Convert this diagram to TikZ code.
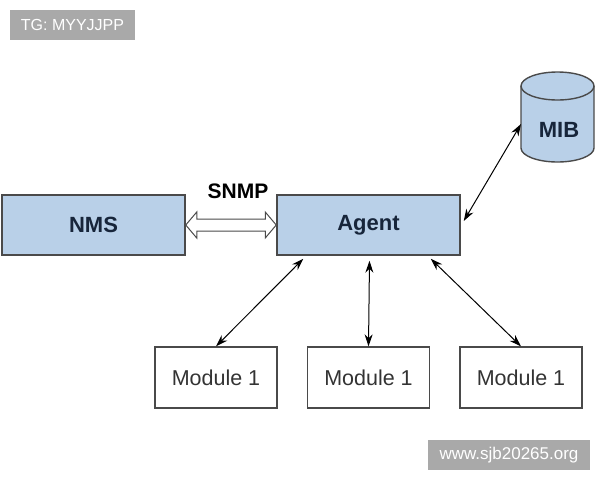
\documentclass[tikz,border=0pt]{standalone}
\usepackage{fontspec}
\setmainfont{Liberation Sans}
\usetikzlibrary{arrows.meta,calc}
\definecolor{boxblue}{HTML}{B9D0E8}
\definecolor{boxline}{HTML}{4A4A4A}
\definecolor{navy}{HTML}{17253A}
\definecolor{wmgray}{HTML}{A9A9A9}
\tikzset{
  bluebox/.style={draw=boxline, line width=1.5pt, fill=boxblue, minimum width=183pt, minimum height=60pt, inner sep=0pt, font=\fontsize{22}{26}\selectfont\bfseries, text=navy},
  modbox/.style={draw=boxline, line width=1.3pt, fill=white, minimum width=122pt, minimum height=61pt, inner sep=0pt, font=\fontsize{21.5}{25}\selectfont, text=black!80},
  wmbox/.style={fill=wmgray, text=white, inner sep=0pt},
  link/.style={line width=1pt, {Stealth[length=12pt,width=8pt]}-{Stealth[length=12pt,width=8pt]}}
}
\begin{document}
\begin{tikzpicture}[x=1pt,y=-1pt]
\useasboundingbox (0,0) rectangle (600,480);
% watermarks
\node[wmbox, minimum width=125pt, minimum height=30pt, font=\fontsize{16}{19}\selectfont] (tg) at (72.5,25) {TG: MYYJJPP};
\node[wmbox, minimum width=162pt, minimum height=30pt, font=\fontsize{17}{20}\selectfont] (www) at (509,455) {www.sjb20265.org};
% main boxes
\node[bluebox] (nms) at (93.5,225) {NMS};
\node[bluebox] (agent) at (368.5,225) {Agent};
\node[font=\fontsize{21}{25}\selectfont\bfseries] (snmp) at (238,191) {SNMP};
% hollow double arrow
\draw[line width=1pt, draw=boxline, fill=white]
  (nms.east) -- ++(11,-13) -- ++(0,7) -- ($(agent.west)+(-11,-6)$) -- ++(0,-7)
  -- (agent.west) -- ++(-11,13) -- ++(0,-7) -- ($(nms.east)+(11,6)$) -- ++(0,7) -- cycle;
% MIB cylinder
\draw[line width=1.4pt, draw=boxline, fill=boxblue]
  (521,86) -- (521,148) arc[start angle=180, end angle=360, x radius=36.5, y radius=-14]
  -- (594,86) arc[start angle=0, end angle=180, x radius=36.5, y radius=-14] -- cycle;
\draw[line width=1.4pt, draw=boxline]
  (521,86) arc[start angle=180, end angle=360, x radius=36.5, y radius=-14];
\node[font=\fontsize{22}{26}\selectfont\bfseries, text=navy] (mib) at (559,130) {MIB};
\coordinate (mibw) at (521,124);
% modules
\node[modbox] (m1) at (216,377.5) {Module 1};
\node[modbox] (m2) at (368.5,377.5) {Module 1};
\node[modbox] (m3) at (521,377.5) {Module 1};
% connectors
\draw[link] (mibw) -- ($(agent.east)+(3,-4)$);
\draw[link] ($(agent.south west)+(27,3)$) -- (m1.north);
\draw[link] ($(agent.south)+(1,5)$) -- (m2.north);
\draw[link] ($(agent.south east)+(-30,3)$) -- (m3.north);
\end{tikzpicture}
\end{document}
